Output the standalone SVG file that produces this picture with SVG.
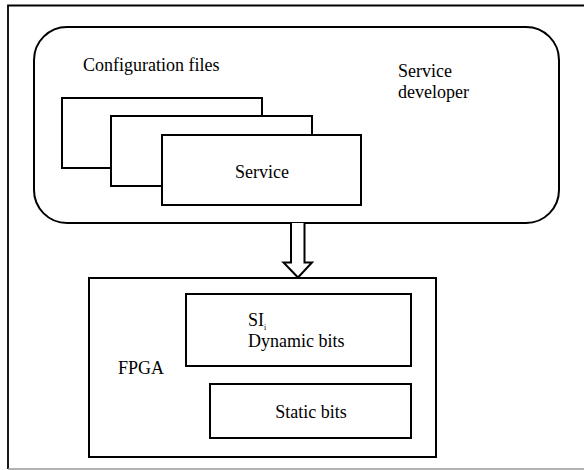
<svg xmlns="http://www.w3.org/2000/svg" width="584" height="470" viewBox="0 0 584 470">
  <style>
    .box { fill: #ffffff; stroke: #000000; stroke-width: 2; }
    text { font-family: 'Liberation Serif', 'DejaVu Serif', serif; font-size: 18px; fill: #000000; }
  </style>

  <!-- outer frame: open on the right, light bottom edge -->
  <rect x="0" y="0" width="584" height="470" fill="#ffffff"/>
  <path d="M584,5.5 H8 V469" fill="none" stroke="#000000" stroke-width="1.8"/>
  <path d="M8,469 H584" fill="none" stroke="#999999" stroke-width="1.5"/>

  <!-- developer side -->
  <g id="service-developer">
    <rect class="box" x="34" y="27" width="525" height="196" rx="33" ry="33"/>
    <text x="398" y="77" font-family="Liberation Serif">Service</text>
    <text x="398" y="98" font-family="Liberation Serif">developer</text>
  </g>

  <g id="configuration-files">
    <text x="83" y="71" font-family="Liberation Serif">Configuration files</text>
    <rect class="box" x="62" y="98" width="200" height="70"/>
    <rect class="box" x="111" y="116" width="201" height="70"/>
  </g>

  <g id="service">
    <rect class="box" x="162" y="135" width="199" height="70"/>
    <text x="262" y="178" text-anchor="middle" font-family="Liberation Serif">Service</text>
  </g>

  <!-- connectors -->
  <g id="connectors">
    <path class="box" d="M291,223 V262.5 H283.5 L298,277.5 L312,262.5 H304.5 V223"/>
  </g>

  <!-- device side -->
  <g id="fpga">
    <rect class="box" x="89" y="278" width="347" height="179"/>
    <text x="118" y="374" font-family="Liberation Serif">FPGA</text>
  </g>

  <g id="dynamic-bits">
    <rect class="box" x="186" y="294" width="225" height="72"/>
    <text x="248" y="326" font-family="Liberation Serif">SI<tspan font-size="8" dy="4">i</tspan></text>
    <text x="248" y="347" font-family="Liberation Serif">Dynamic bits</text>
  </g>

  <g id="static-bits">
    <rect class="box" x="210" y="384" width="201" height="54"/>
    <text x="311" y="418" text-anchor="middle" font-family="Liberation Serif">Static bits</text>
  </g>
</svg>
